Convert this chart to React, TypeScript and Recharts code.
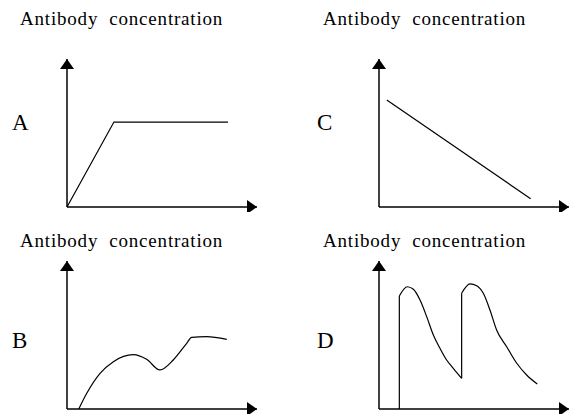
import React from "react";
import { LineChart, Line, XAxis, YAxis } from "recharts";

// values, axes scaled 0-100
const curveA = [
  { x: 0, y: 0 },
  { x: 24.7, y: 57.4 },
  { x: 84.7, y: 57.4 },
];

const curveC = [
  { x: 4.1, y: 72.3 },
  { x: 79.8, y: 5.6 },
];

const curveB = [
  { x: 6.2, y: 0 },
  { x: 10.4, y: 10.6 },
  { x: 17.4, y: 24.1 },
  { x: 24.4, y: 32 },
  { x: 34.9, y: 36.7 },
  { x: 41.9, y: 33.6 },
  { x: 48.9, y: 26.4 },
  { x: 55.9, y: 33.1 },
  { x: 63, y: 44.4 },
  { x: 65.6, y: 48.4 },
  { x: 73.5, y: 48.9 },
  { x: 84.1, y: 47.1 },
];

const riseD1 = [
  { x: 10.7, y: 0 },
  { x: 10.7, y: 76.4 },
];
const fallD1 = [
  { x: 10.7, y: 76.4 },
  { x: 14.9, y: 82.6 },
  { x: 18.1, y: 80.9 },
  { x: 21.6, y: 73.6 },
  { x: 25.1, y: 62.4 },
  { x: 28.6, y: 50 },
  { x: 32.1, y: 41 },
  { x: 35.6, y: 33.1 },
  { x: 39.1, y: 27.5 },
  { x: 43.5, y: 20.7 },
];
const riseD2 = [
  { x: 43.5, y: 20.7 },
  { x: 43.5, y: 78.2 },
];
const fallD2 = [
  { x: 43.5, y: 78.2 },
  { x: 47.9, y: 84.5 },
  { x: 51.4, y: 83.3 },
  { x: 54.9, y: 78.2 },
  { x: 58.4, y: 66.9 },
  { x: 61.9, y: 53.4 },
  { x: 67.2, y: 42.1 },
  { x: 72.5, y: 30.9 },
  { x: 77.7, y: 23 },
  { x: 83.3, y: 16.9 },
];

const TITLE = "Antibody  concentration";
const FONT = '"Liberation Serif", "Times New Roman", serif';

type Seg = { data: { x: number; y: number }[]; type: "linear" | "monotone" };

function Panel({ left, top, segs }: { left: number; top: number; segs: Seg[] }) {
  return (
    <div style={{ position: "absolute", left, top }}>
      <LineChart
        width={259}
        height={212}
        margin={{ top: 59, left: 66, right: 2, bottom: 4 }}
      >
        <XAxis
          type="number"
          dataKey="x"
          domain={[0, 100]}
          height={1}
          tick={false}
          tickLine={false}
          axisLine={{ stroke: "#000", strokeWidth: 1.5, markerEnd: "url(#arrowhead)" }}
        />
        <YAxis
          type="number"
          dataKey="y"
          domain={[0, 100]}
          width={1}
          tick={false}
          tickLine={false}
          axisLine={{ stroke: "#000", strokeWidth: 1.5, markerStart: "url(#arrowhead)" }}
        />
        {segs.map((s, i) => (
          <Line
            key={i}
            data={s.data}
            dataKey="y"
            type={s.type}
            stroke="#000"
            strokeWidth={1.2}
            dot={false}
            activeDot={false}
            isAnimationActive={false}
          />
        ))}
      </LineChart>
    </div>
  );
}

export default function App() {
  return (
    <div
      style={{
        position: "absolute",
        left: 0,
        top: 0,
        width: 571,
        height: 415,
        overflow: "hidden",
        background: "#fff",
      }}
    >
      <svg width={0} height={0} style={{ position: "absolute" }}>
        <defs>
          <marker
            id="arrowhead"
            viewBox="0 0 10 14"
            refX={10}
            refY={7}
            markerWidth={10}
            markerHeight={14}
            markerUnits="userSpaceOnUse"
            orient="auto-start-reverse"
          >
            <path d="M0,0 L10,7 L0,14 z" fill="#000" />
          </marker>
        </defs>
      </svg>

      <Panel left={0} top={0} segs={[{ data: curveA, type: "linear" }]} />
      <Panel left={312} top={0} segs={[{ data: curveC, type: "linear" }]} />
      <Panel left={0} top={202} segs={[{ data: curveB, type: "monotone" }]} />
      <Panel
        left={312}
        top={202}
        segs={[
          { data: riseD1, type: "linear" },
          { data: fallD1, type: "monotone" },
          { data: riseD2, type: "linear" },
          { data: fallD2, type: "monotone" },
        ]}
      />

      <svg
        width={571}
        height={415}
        style={{ position: "absolute", left: 0, top: 0, pointerEvents: "none" }}
      >
        <g fontFamily={FONT} fill="#000">
          <text x={20} y={25} fontSize={19} letterSpacing={0.8} style={{ whiteSpace: "pre" }}>
            {TITLE}
          </text>
          <text x={323} y={25} fontSize={19} letterSpacing={0.8} style={{ whiteSpace: "pre" }}>
            {TITLE}
          </text>
          <text x={20} y={247} fontSize={19} letterSpacing={0.8} style={{ whiteSpace: "pre" }}>
            {TITLE}
          </text>
          <text x={323} y={247} fontSize={19} letterSpacing={0.8} style={{ whiteSpace: "pre" }}>
            {TITLE}
          </text>
          <text x={12} y={130} fontSize={23}>A</text>
          <text x={317} y={130} fontSize={23}>C</text>
          <text x={12} y={348} fontSize={23}>B</text>
          <text x={317} y={348} fontSize={23}>D</text>
        </g>
      </svg>
    </div>
  );
}
